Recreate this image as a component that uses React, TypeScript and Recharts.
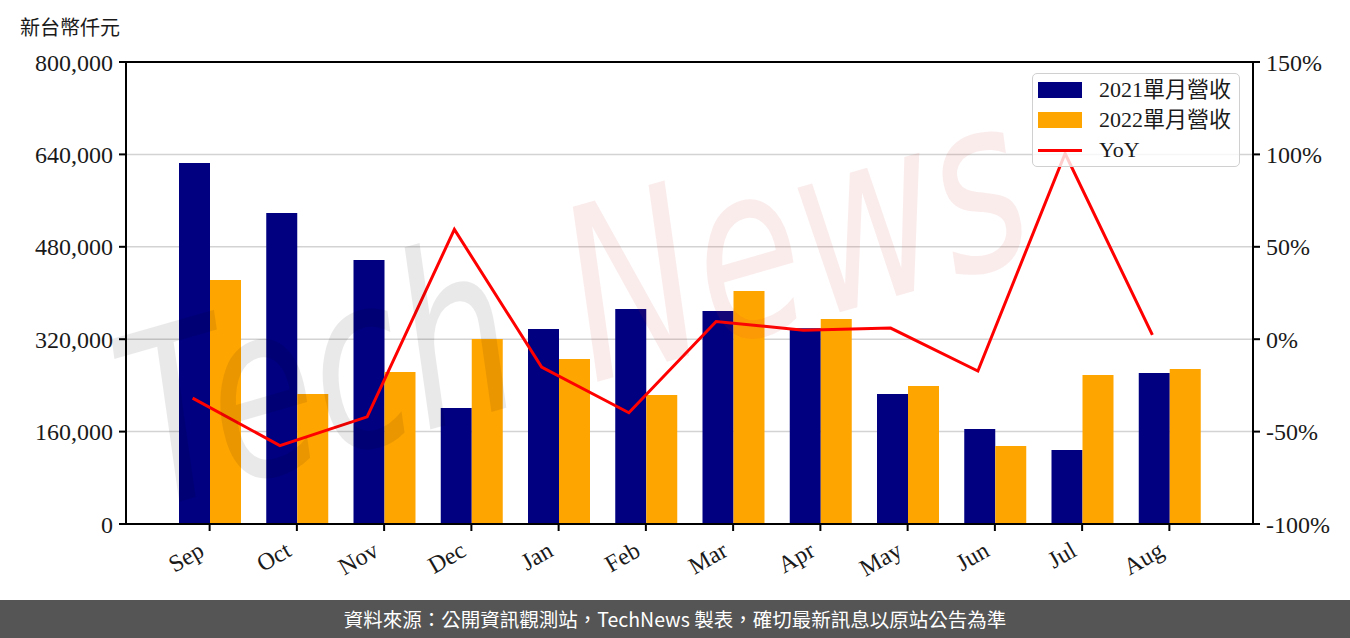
import { ComposedChart, Bar, Line, XAxis, YAxis, CartesianGrid, Legend, ReferenceLine } from 'recharts';

// 單月營收 (新台幣仟元) and YoY (%), Sep 2021 .. Aug 2022
const months = ['Sep', 'Oct', 'Nov', 'Dec', 'Jan', 'Feb', 'Mar', 'Apr', 'May', 'Jun', 'Jul', 'Aug'];
const rev2021 = [625100, 538500, 457100, 200900, 337700, 372300, 368800, 338800, 225100, 164500, 128100, 261500];
const rev2022 = [422500, 225100, 263200, 320300, 285700, 223400, 403500, 355000, 239000, 135100, 258000, 268400];
const yoy = [-31.9, -57.6, -42.0, 59.4, -15.1, -39.8, 9.6, 4.9, 6.0, -17.2, 100.5, 2.3];

const leftTicks = [0, 160000, 320000, 480000, 640000, 800000];
const rightTicks = [-100, -50, 0, 50, 100, 150];

const data = months.map((m, i) => ({ month: m, r2021: rev2021[i], r2022: rev2022[i], yoy: yoy[i] }));

const SERIF = '"Liberation Serif", "DejaVu Serif", serif';
const CJK = '"Liberation Serif", "Noto Sans CJK TC", sans-serif';
const tickStyle = { fill: '#1a1a1a', fontSize: 24, fontFamily: SERIF };

const MonthTick = ({ x, y, payload }: any) => (
  <g transform={`translate(${x - 4},${y + 22})`}>
    <text textAnchor="end" transform="rotate(-30)" fill="#1a1a1a" fontSize={24} fontFamily={SERIF}>
      {payload.value}
    </text>
  </g>
);

const legendItems = [
  { label: '2021單月營收', color: '#000080', kind: 'bar' },
  { label: '2022單月營收', color: '#FFA500', kind: 'bar' },
  { label: 'YoY', color: '#FF0000', kind: 'line' },
];

const LegendBox = () => (
  <div
    style={{
      width: 208,
      height: 94,
      boxSizing: 'border-box',
      border: '1.5px solid #d0d0d0',
      borderRadius: 5,
      background: 'rgba(255,255,255,0.8)',
      padding: '1px 0 0 5px',
    }}
  >
    {legendItems.map((it) => (
      <div key={it.label} style={{ display: 'flex', alignItems: 'center', height: 30 }}>
        <div style={{ width: 44, height: it.kind === 'bar' ? 16 : 3, background: it.color, marginRight: 17 }} />
        <span style={{ fontFamily: CJK, fontSize: 22, color: '#1a1a1a', lineHeight: '30px' }}>{it.label}</span>
      </div>
    ))}
  </div>
);

const wmFont = '"DejaVu Sans", sans-serif';

export default function App() {
  return (
    <div style={{ position: 'absolute', left: 0, top: 0, width: 1350, height: 638, background: '#fff', overflow: 'hidden' }}>
      <div style={{ position: 'absolute', left: 20, top: 12, fontFamily: '"Noto Sans CJK TC", sans-serif', fontSize: 20, color: '#1a1a1a' }}>
        新台幣仟元
      </div>
      <ComposedChart width={1350} height={600} data={data} margin={{ top: 62, right: 0, bottom: 0, left: 0 }} barGap={0}>
        <CartesianGrid xAxisId="bar" yAxisId="left" vertical={false} stroke="#d3d3d3" strokeWidth={1.5} />
        <XAxis
          xAxisId="bar"
          dataKey="month"
          height={76}
          padding={{ left: 40, right: 40 }}
          tickSize={7}
          tick={<MonthTick />}
          tickLine={{ stroke: '#000', strokeWidth: 2 }}
          axisLine={{ stroke: '#000', strokeWidth: 2 }}
          interval={0}
        />
        <XAxis xAxisId="line" dataKey="month" hide padding={{ left: 23, right: 57 }} />
        <YAxis
          yAxisId="left"
          width={126}
          domain={[0, 800000]}
          ticks={leftTicks}
          tickFormatter={(v: number) => v.toLocaleString('en-US')}
          tick={tickStyle}
          tickSize={7}
          tickMargin={6}
          tickLine={{ stroke: '#000', strokeWidth: 2 }}
          axisLine={{ stroke: '#000', strokeWidth: 2 }}
          interval={0}
        />
        <YAxis
          yAxisId="right"
          orientation="right"
          width={97}
          domain={[-100, 150]}
          ticks={rightTicks}
          tickFormatter={(v: number) => `${v}%`}
          tick={{ ...tickStyle, textAnchor: 'start' }}
          tickSize={7}
          tickMargin={6}
          tickLine={{ stroke: '#000', strokeWidth: 2 }}
          axisLine={{ stroke: '#000', strokeWidth: 2 }}
          interval={0}
        />
        <ReferenceLine xAxisId="bar" yAxisId="left" y={800000} stroke="#000" strokeWidth={2} />
        <Bar xAxisId="bar" yAxisId="left" dataKey="r2021" name="2021單月營收" fill="#000080" barSize={31} isAnimationActive={false} />
        <Bar xAxisId="bar" yAxisId="left" dataKey="r2022" name="2022單月營收" fill="#FFA500" barSize={31} isAnimationActive={false} />
        <Line
          xAxisId="line"
          yAxisId="right"
          type="linear"
          dataKey="yoy"
          name="YoY"
          stroke="#FF0000"
          strokeWidth={3}
          dot={false}
          activeDot={false}
          isAnimationActive={false}
        />
        <Legend
          layout="horizontal"
          verticalAlign="middle"
          align="center"
          content={() => <LegendBox />}
          wrapperStyle={{ position: 'absolute', left: 1032, top: 73, width: 208, height: 94 }}
        />
      </ComposedChart>
      {/* watermark, squeezed horizontally */}
      <svg width={1350} height={600} style={{ position: 'absolute', left: 0, top: 0, pointerEvents: 'none' }}>
        <g transform="rotate(-16 150 510) translate(150 510) scale(0.72 1)">
          <text x={0} y={0} fontFamily={wmFont} fontStyle="italic" fontSize={240} fill="rgba(0,0,0,0.085)">
            Tech
          </text>
          <text x={640} y={0} fontFamily={wmFont} fontStyle="italic" fontSize={240} fill="rgba(215,40,40,0.09)">
            News
          </text>
        </g>
      </svg>
      <div
        style={{
          position: 'absolute',
          left: 0,
          top: 600,
          width: 1350,
          height: 38,
          background: '#555555',
          color: '#fff',
          fontFamily: '"Noto Sans CJK TC", sans-serif',
          fontSize: 19.5,
          lineHeight: '38px',
          textAlign: 'center',
        }}
      >
        資料來源：公開資訊觀測站，TechNews 製表，確切最新訊息以原站公告為準
      </div>
    </div>
  );
}
